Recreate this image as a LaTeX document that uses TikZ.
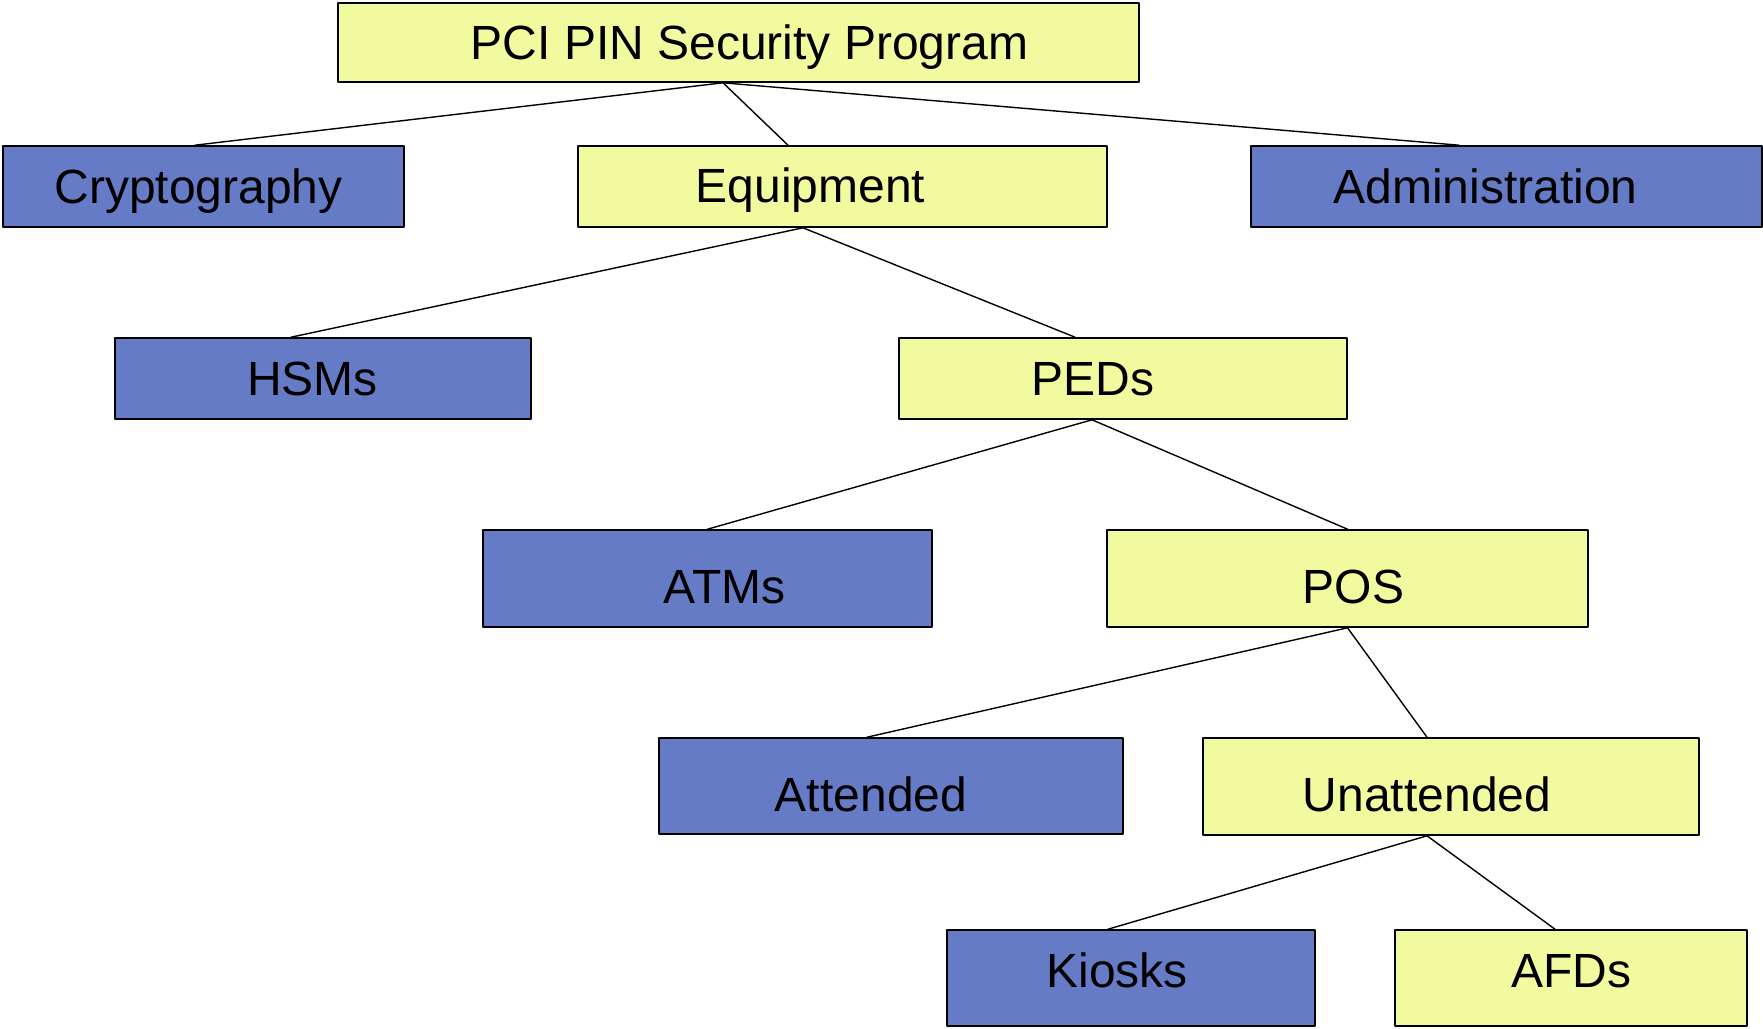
\documentclass[tikz,border=0pt]{standalone}
\usepackage{fontspec}
\setmainfont{Liberation Sans}
\definecolor{pinyellow}{RGB}{242,250,160}
\definecolor{pinblue}{RGB}{102,123,198}
\tikzset{
  box/.style={draw=black, line width=1.6pt, rectangle, inner sep=0pt},
  ybox/.style={box, fill=pinyellow},
  bbox/.style={box, fill=pinblue},
  lbl/.style={font=\fontsize{48}{58}\selectfont, text height=34pt, text depth=0pt, inner sep=0pt},
  link/.style={line width=1.4pt}
}
\begin{document}
\begin{tikzpicture}[x=1pt, y=-1pt, line join=round, line cap=round]
\useasboundingbox (0,0) rectangle (1763,1028);
% first level
\node[ybox, minimum width=801, minimum height=79, label={[lbl, name=pin-t, xshift=11]center:PCI PIN Security Program}] (pin) at (738.5,42.5) {};
\node[bbox, minimum width=401, minimum height=81, label={[lbl, name=crypto-t, xshift=-5]center:Cryptography}] (crypto) at (203.5,186.5) {};
\node[ybox, minimum width=529, minimum height=81, label={[lbl, name=equip-t, xshift=-32, yshift=1.5]center:Equipment}] (equip) at (842.5,186.5) {};
\node[bbox, minimum width=511, minimum height=81, label={[lbl, name=admin-t, xshift=-21]center:Administration}] (admin) at (1506.5,186.5) {};
% equipment
\node[bbox, minimum width=416, minimum height=81, label={[lbl, name=hsm-t, xshift=-10.5]center:HSMs}] (hsm) at (323,378.5) {};
\node[ybox, minimum width=448, minimum height=81, label={[lbl, name=ped-t, xshift=-30]center:PEDs}] (ped) at (1123,378.5) {};
% PEDs
\node[bbox, minimum width=449, minimum height=97, label={[lbl, name=atm-t, xshift=17, yshift=-8]center:ATMs}] (atm) at (707.5,578.5) {};
\node[ybox, minimum width=481, minimum height=97, label={[lbl, name=pos-t, xshift=6, yshift=-8]center:POS}] (pos) at (1347.5,578.5) {};
% POS
\node[bbox, minimum width=464, minimum height=96, label={[lbl, name=att-t, xshift=-20, yshift=-8]center:Attended}] (att) at (891,786) {};
\node[ybox, minimum width=496, minimum height=97, label={[lbl, name=unatt-t, xshift=-24, yshift=-8]center:Unattended}] (unatt) at (1451,786.5) {};
% unattended
\node[bbox, minimum width=368, minimum height=96, label={[lbl, name=kiosk-t, xshift=-14, yshift=8]center:Kiosks}] (kiosk) at (1131,978) {};
\node[ybox, minimum width=352, minimum height=96, label={[lbl, name=afd-t, yshift=8]center:AFDs}] (afd) at (1571,978) {};
% connectors
\foreach \a/\da/\b/\db in {pin/-15.5/crypto/-8.5, pin/-15.5/equip/-54.5, pin/-15.5/admin/-47.5,
  equip/-39.5/hsm/-32, equip/-39.5/ped/-48,
  ped/-31/atm/0, ped/-31/pos/0,
  pos/0/att/-24, pos/0/unatt/-24,
  unatt/-24/kiosk/-23, unatt/-24/afd/-16}
\draw[link] ([xshift=\da]\a.south) -- ([xshift=\db]\b.north);
\end{tikzpicture}
\end{document}
